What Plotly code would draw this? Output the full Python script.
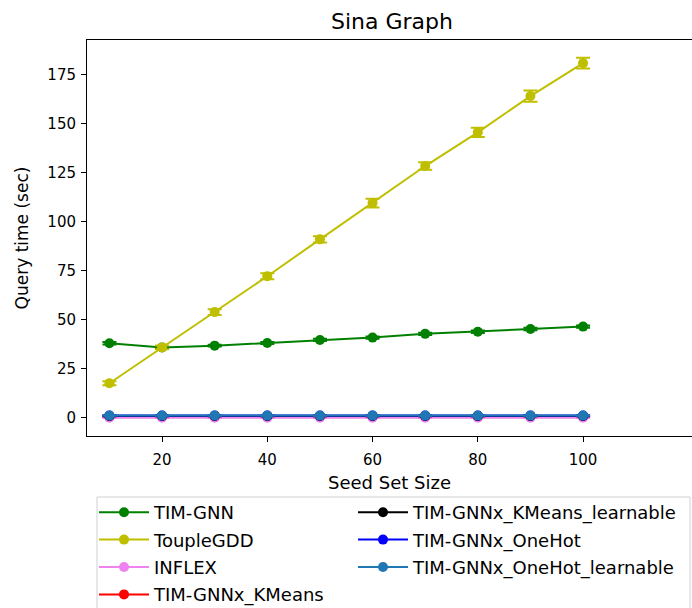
import plotly.graph_objects as go

seed_sizes = [10, 20, 30, 40, 50, 60, 70, 80, 90, 100]

tim_gnn = [38.1, 36.0, 36.9, 38.2, 39.8, 41.0, 42.9, 44.0, 45.4, 46.6]
tim_gnn_err = [0.6, 0.5, 0.5, 0.5, 0.6, 0.6, 0.6, 0.6, 0.6, 0.6]
touple = [17.7, 36.0, 54.0, 72.3, 91.1, 109.6, 128.5, 145.7, 164.2, 181.0]
touple_err = [1.0, 1.0, 1.5, 1.5, 1.6, 2.2, 1.9, 2.4, 2.9, 2.7]
inflex = [0.1] * 10
inflex_err = [0.1] * 10
kmeans = [1.0] * 10
kmeans_err = [0.1] * 10
kmeans_learn = [1.0] * 10
kmeans_learn_err = [0.1] * 10
onehot = [1.2] * 10
onehot_err = [0.1] * 10
onehot_learn = [1.2] * 10
onehot_learn_err = [0.1] * 10

series = [
    ("TIM-GNN", tim_gnn, tim_gnn_err, "#008000", "legend"),
    ("ToupleGDD", touple, touple_err, "#bfbf00", "legend"),
    ("INFLEX", inflex, inflex_err, "#ee82ee", "legend"),
    ("TIM-GNNx_KMeans", kmeans, kmeans_err, "#ff0000", "legend"),
    ("TIM-GNNx_KMeans_learnable", kmeans_learn, kmeans_learn_err, "#000000", "legend2"),
    ("TIM-GNNx_OneHot", onehot, onehot_err, "#0000ff", "legend2"),
    ("TIM-GNNx_OneHot_learnable", onehot_learn, onehot_learn_err, "#1f77b4", "legend2"),
]

fig = go.Figure()
for i, (name, vals, errs, color, lg) in enumerate(series):
    fig.add_trace(go.Scatter(
        x=seed_sizes, y=vals, name=name, mode="lines+markers",
        line=dict(color=color, width=2),
        marker=dict(color=color, size=10),
        error_y=dict(type="data", array=errs, visible=True, color=color,
                     thickness=2, width=7),
        legend=lg, legendgroup=f"g{i}",
    ))

W, H = 692, 608
L, T, B = 87, 40, 172
plot_w = W - L
plot_h = H - T - B
bottom_px = T + plot_h


def px_x(p):
    return (p - L) / plot_w


def px_y(p):
    return (bottom_px - p) / plot_h


leg_common = dict(
    orientation="v", xanchor="left", yanchor="top",
    itemwidth=50, font=dict(size=18), bgcolor="rgba(0,0,0,0)",
    borderwidth=0, traceorder="grouped", tracegroupgap=1,
)

fig.update_layout(
    width=W, height=H,
    margin=dict(l=L, r=0, t=T, b=B, autoexpand=False),
    paper_bgcolor="white", plot_bgcolor="white",
    font=dict(family="DejaVu Sans", size=15, color="black"),
    title=dict(text="Sina Graph", x=392 / W, xanchor="center",
               y=1 - 21 / H, yanchor="middle", font=dict(size=22)),
    showlegend=True,
    legend=dict(x=px_x(94), y=px_y(494), **leg_common),
    legend2=dict(x=px_x(353), y=px_y(494), **leg_common),
    shapes=[dict(
        type="rect", xref="paper", yref="paper",
        x0=px_x(97), x1=px_x(690), y0=px_y(497), y1=px_y(640),
        line=dict(color="#d0d0d0", width=1), fillcolor="rgba(0,0,0,0)",
        layer="below",
    )],
)

fig.update_xaxes(
    range=[5.74, 120.7],
    tickvals=[20, 40, 60, 80, 100],
    ticks="outside", ticklen=5, tickwidth=1, tickcolor="black",
    showline=True, linecolor="black", linewidth=1, mirror=True,
    showgrid=False, zeroline=False,
    title=dict(text="Seed Set Size", font=dict(size=18), standoff=8),
    tickfont=dict(size=15), ticklabelstandoff=5,
)
fig.update_yaxes(
    range=[-9.2, 192.8],
    tickvals=[0, 25, 50, 75, 100, 125, 150, 175],
    ticks="outside", ticklen=5, tickwidth=1, tickcolor="black",
    showline=True, linecolor="black", linewidth=1, mirror=False,
    showgrid=False, zeroline=False,
    title=dict(text="Query time (sec)", font=dict(size=17), standoff=14),
    tickfont=dict(size=15), ticklabelstandoff=2,
)

fig.write_html("out.html")
